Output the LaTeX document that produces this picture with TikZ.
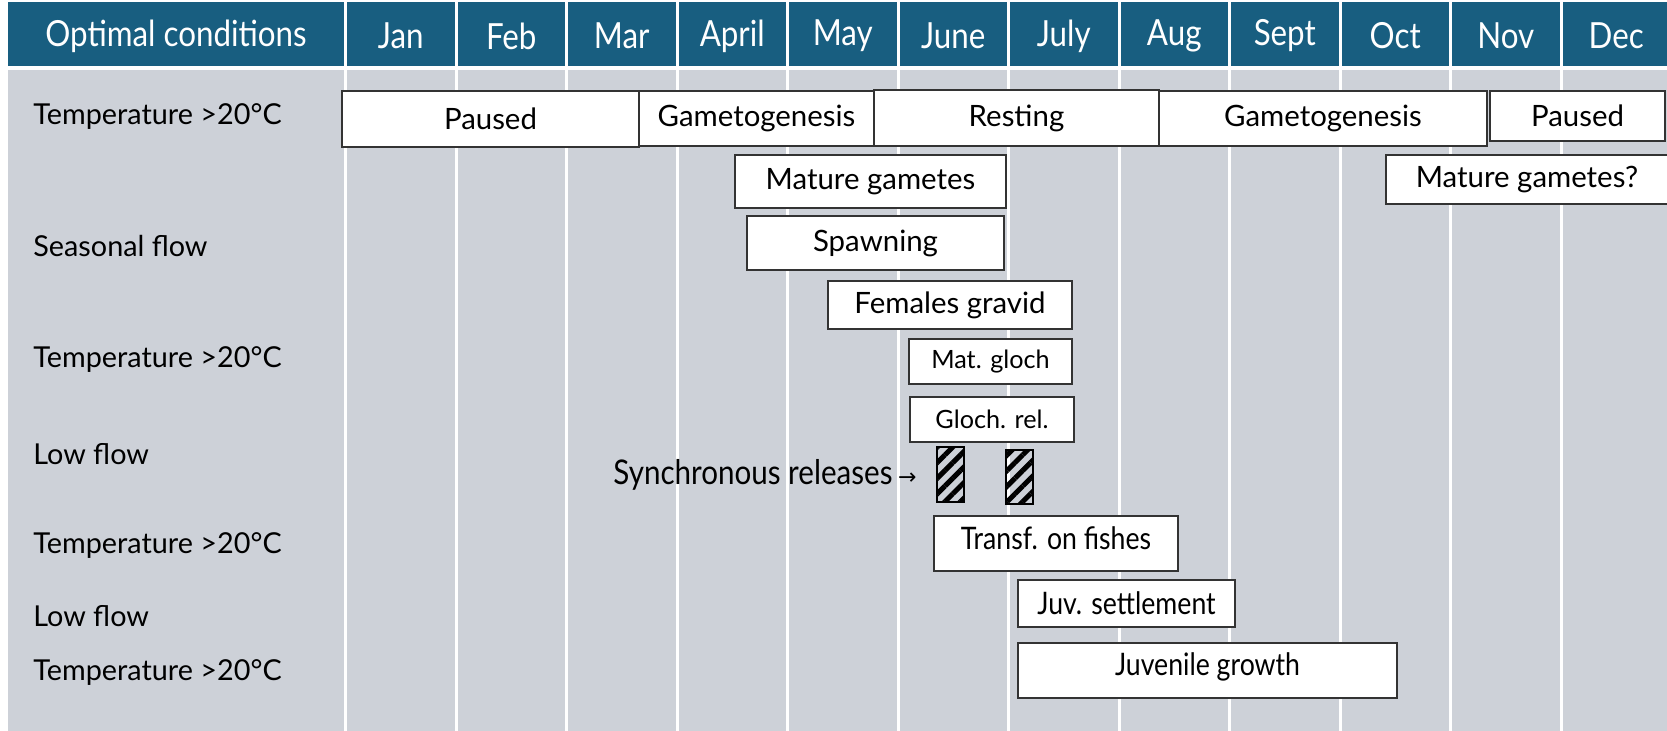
\documentclass[tikz,border=0pt]{standalone}
\usepackage{fontspec}
\setmainfont{Lato}
\newfontfamily\narrowfont[FakeStretch=0.86]{Lato}
\newfontfamily\hdrfont[FakeStretch=0.87]{Lato}
\newfontfamily\symfont{DejaVu Sans}
\usetikzlibrary{fit,patterns.meta}
\definecolor{hdrblue}{HTML}{185E80}
\definecolor{bodygrey}{HTML}{CDD1D8}
\definecolor{boxline}{HTML}{333333}
\tikzset{
  bar/.style={draw=boxline, line width=0.6pt, fill=white, inner sep=0pt},
  maintext/.style={font=\fontsize{14.7}{17}\selectfont, text=black, inner sep=0pt},
  smalltext/.style={font=\fontsize{12.6}{15}\selectfont, text=black, inner sep=0pt},
  narrowtext/.style={font=\narrowfont\fontsize{15.5}{18}\selectfont, text=black, inner sep=0pt},
  rowlabel/.style={font=\fontsize{14.4}{17}\selectfont, text=black, inner sep=0pt, anchor=west},
  hdrtext/.style={font=\hdrfont\fontsize{18}{20}\selectfont, text=white, inner sep=0pt},
  synctext/.style={font=\hdrfont\fontsize{17}{19}\selectfont, text=black, inner sep=0pt},
  divider/.style={draw=white, line width=1.5pt},
  hatch/.style={draw=black, line width=0.6pt, pattern={Lines[angle=45, distance=5.5pt, line width=2.5pt]}, pattern color=black, inner sep=0pt},
}
\begin{document}
\begin{tikzpicture}[x=0.5pt, y=-0.5pt]
\useasboundingbox (0,0) rectangle (1667,731);
\fill[white] (0,0) rectangle (1667,731);
% header band and body
\fill[hdrblue] (8,2) rectangle (1667,66);
\fill[bodygrey] (8,70) rectangle (1667,731);
% column dividers
\foreach \i in {0,...,11} {
  \draw[divider] ({345.5+110.5*\i},2) -- ({345.5+110.5*\i},731);
}
% header labels
\node[hdrtext] (hdr) at (176,36) {Optimal conditions};
\foreach \m [count=\k from 0] in {Jan,Feb,Mar,April,May,June,July,Aug,Sept,Oct,Nov,Dec} {
  \node[hdrtext] (m\k) at ({345.5+110.5*\k+55.25},36) {\m};
}
% row labels
\node[rowlabel] (r1) at (33,117) {Temperature >20°C};
\node[rowlabel] (r2) at (33,246) {Seasonal flow};
\node[rowlabel] (r3) at (33,360) {Temperature >20°C};
\node[rowlabel] (r4) at (33,454) {Low flow};
\node[rowlabel] (r5) at (33,546) {Temperature >20°C};
\node[rowlabel] (r6) at (33,616) {Low flow};
\node[rowlabel] (r7) at (33,673) {Temperature >20°C};
% phase boxes
\node[bar, fit={(342,91) (639,147)}] (paused1) {};
\node[maintext] at (paused1.center) {Paused};
\node[bar, fit={(639,91) (874,146)}] (gameto1) {};
\node[maintext] at (gameto1.center) {Gametogenesis};
\node[bar, fit={(874,90) (1159,146)}] (resting) {};
\node[maintext] at (resting.center) {Resting};
\node[bar, fit={(1159,91) (1487,146)}] (gameto2) {};
\node[maintext] at (gameto2.center) {Gametogenesis};
\node[bar, fit={(1490,91) (1665,141)}] (paused2) {};
\node[maintext] at (paused2.center) {Paused};
\node[bar, fit={(735,155) (1006,208)}] (matgam) {};
\node[maintext] at (matgam.center) {Mature gametes};
\node[bar, fit={(1386,155) (1668,204)}] (matgam2) {};
\node[maintext] at (matgam2.center) {Mature gametes?};
\node[bar, fit={(747,216) (1004,270)}] (spawn) {};
\node[maintext] at (spawn.center) {Spawning};
\node[bar, fit={(828,281) (1072,329)}] (females) {};
\node[maintext] at (females.center) {Females gravid};
\node[bar, fit={(909,339) (1072,384)}] (matgloch) {};
\node[smalltext] at (matgloch.center) {Mat. gloch};
\node[bar, fit={(910,397) (1074,442)}] (glochrel) {};
\node[smalltext] at (glochrel.center) {Gloch. rel.};
\node[hatch, fit={(937,447) (964,502)}] (sync1) {};
\node[hatch, fit={(1006,450) (1033,504)}] (sync2) {};
\node[synctext, anchor=east] (synctext) at (917,475) {Synchronous releases\,{\symfont\fontsize{11}{12}\selectfont →}};
\node[bar, fit={(934,516) (1178,571)}] (transf) {};
\node[narrowtext] at ([yshift=2.5pt]transf.center) {Transf. on fishes};
\node[bar, fit={(1018,580) (1235,627)}] (juvset) {};
\node[narrowtext] at (juvset.center) {Juv. settlement};
\node[bar, fit={(1018,643) (1397,698)}] (juvgrow) {};
\node[narrowtext] at ([yshift=2pt]juvgrow.center) {Juvenile growth};
\end{tikzpicture}
\end{document}
